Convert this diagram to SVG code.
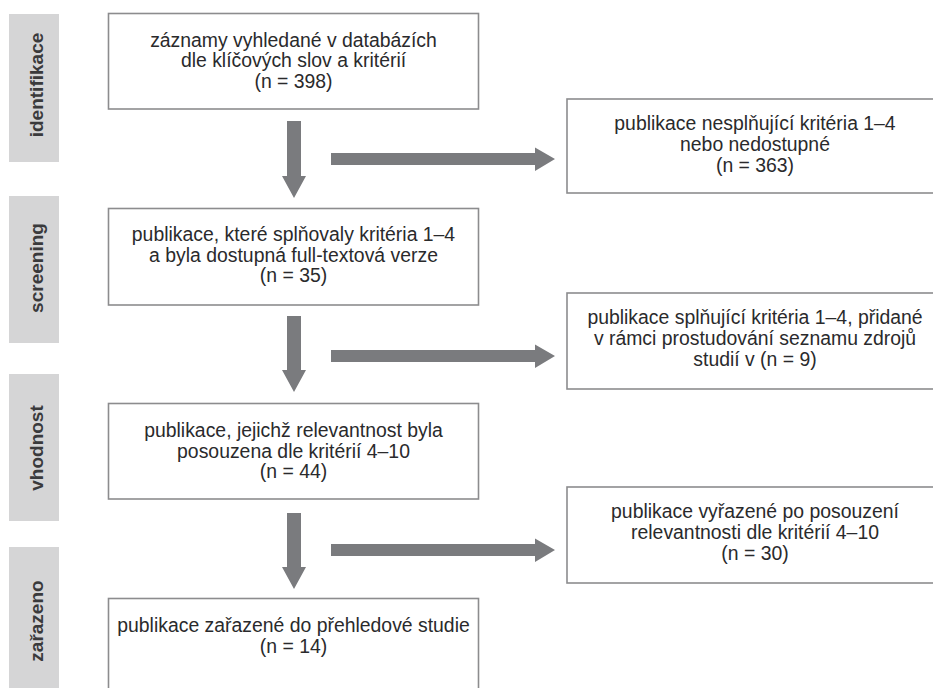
<svg xmlns="http://www.w3.org/2000/svg" width="933" height="688" viewBox="0 0 933 688">
<style>
.bg{fill:#ffffff}
.phase{fill:#d5d5d6}
.phase-t{font-family:"Liberation Sans",Arial,sans-serif;font-weight:bold;font-size:19px;fill:#3a3a3c;text-anchor:middle}
.box{fill:#ffffff;stroke:#8c8c8e;stroke-width:1.6}
.t{font-family:"Liberation Sans",Arial,sans-serif;font-size:19.4px;fill:#2a2a2c;text-anchor:middle}
.arrow{fill:#7a7b7e}
</style>
<rect class="bg" x="0" y="0" width="933" height="688"/>
<g id="phase-identifikace"><rect class="phase" x="9" y="14" width="50" height="148"/><text class="phase-t" transform="translate(43,85) rotate(-90)">identifikace</text></g>
<g id="phase-screening"><rect class="phase" x="9" y="196" width="50" height="147"/><text class="phase-t" transform="translate(43,268) rotate(-90)">screening</text></g>
<g id="phase-vhodnost"><rect class="phase" x="9" y="374" width="50" height="147"/><text class="phase-t" transform="translate(43,448) rotate(-90)">vhodnost</text></g>
<g id="phase-zarazeno"><rect class="phase" x="9" y="547" width="50" height="150"/><text class="phase-t" transform="translate(43,621) rotate(-90)">zařazeno</text></g>

<g id="connectors">
<polygon class="arrow" points="287,121 301,121 301,176 306,176 294,198 282,176 287,176"/>
<polygon class="arrow" points="331,153 535,153 535,147.5 555,159 535,171 535,165 331,165"/>
<polygon class="arrow" points="287,316 301,316 301,370 306,370 294,392 282,370 287,370"/>
<polygon class="arrow" points="331,350 535,350 535,344.5 555,356 535,368 535,362 331,362"/>
<polygon class="arrow" points="287,513 301,513 301,567 306,567 294,589 282,567 287,567"/>
<polygon class="arrow" points="331,544 535,544 535,538.5 555,550 535,562 535,556 331,556"/>
</g>

<g id="n1"><rect class="box" x="108.5" y="13.5" width="370" height="95.5"/>
<text class="t" x="293.5" y="46.5">záznamy vyhledané v databázích</text>
<text class="t" x="293.5" y="67">dle klíčových slov a kritérií</text>
<text class="t" x="293.5" y="87.5">(n = 398)</text></g>

<g id="n2"><rect class="box" x="567" y="99" width="380" height="94"/>
<text class="t" x="755" y="130">publikace nesplňující kritéria 1–4</text>
<text class="t" x="755" y="151">nebo nedostupné</text>
<text class="t" x="755" y="172">(n = 363)</text></g>

<g id="n3"><rect class="box" x="108.5" y="208.5" width="370" height="96.5"/>
<text class="t" x="293.5" y="241">publikace, které splňovaly kritéria 1–4</text>
<text class="t" x="293.5" y="261.5">a byla dostupná full-textová verze</text>
<text class="t" x="293.5" y="282">(n = 35)</text></g>

<g id="n4"><rect class="box" x="567" y="293" width="380" height="96"/>
<text class="t" x="755" y="324">publikace splňující kritéria 1–4, přidané</text>
<text class="t" x="755" y="345">v rámci prostudování seznamu zdrojů</text>
<text class="t" x="755" y="366">studií v (n = 9)</text></g>

<g id="n5"><rect class="box" x="108.5" y="403.5" width="370" height="95.5"/>
<text class="t" x="293.5" y="437">publikace, jejichž relevantnost byla</text>
<text class="t" x="293.5" y="457.5">posouzena dle kritérií 4–10</text>
<text class="t" x="293.5" y="478">(n = 44)</text></g>

<g id="n6"><rect class="box" x="567" y="487" width="380" height="96"/>
<text class="t" x="755" y="518">publikace vyřazené po posouzení</text>
<text class="t" x="755" y="539">relevantnosti dle kritérií 4–10</text>
<text class="t" x="755" y="560">(n = 30)</text></g>

<g id="n7"><rect class="box" x="108.5" y="598.5" width="370" height="100"/>
<text class="t" x="293.5" y="632">publikace zařazené do přehledové studie</text>
<text class="t" x="293.5" y="652.5">(n = 14)</text></g>
</svg>
